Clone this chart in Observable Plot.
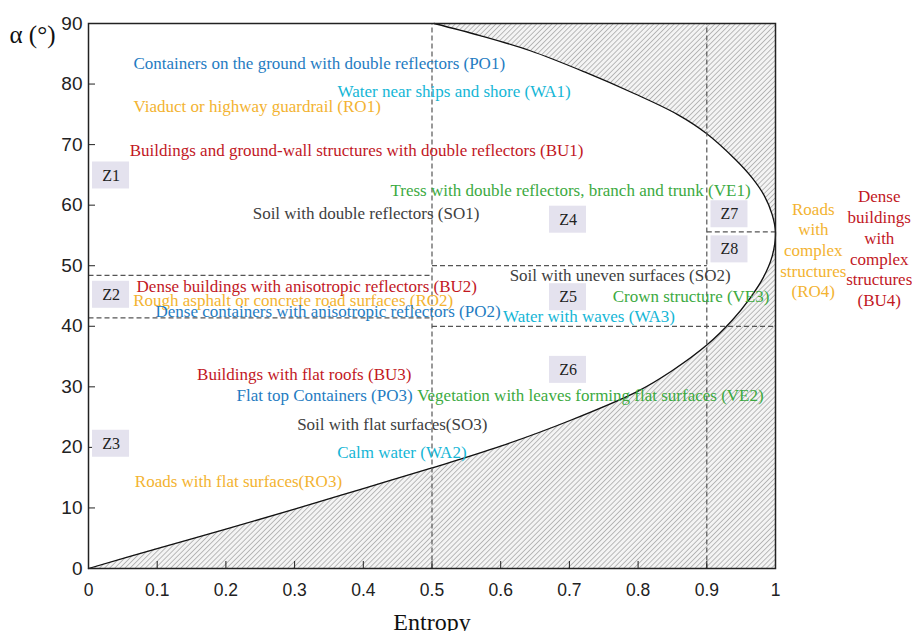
<!DOCTYPE html>
<html><head><meta charset="utf-8">
<script src="https://cdn.jsdelivr.net/npm/d3@7"></script>
<script src="https://cdn.jsdelivr.net/npm/@observablehq/plot@0.6"></script>
<style>body{margin:0;background:#fff} #chart{width:912px;height:631px;overflow:hidden}</style>
</head><body><div id="chart"></div>
<script>
// ---------- data ----------
const entropyDomain = [0, 1];
const alphaDomain = [0, 90];
const xTicks = [0, 0.1, 0.2, 0.3, 0.4, 0.5, 0.6, 0.7, 0.8, 0.9, 1];
const xTickLabels = ["0", "0.1", "0.2", "0.3", "0.4", "0.5", "0.6", "0.7", "0.8", "0.9", "1"];
const yTicks = [0, 10, 20, 30, 40, 50, 60, 70, 80, 90];

// feasible-region boundary
const boundaryAlpha   = [0, 3.3, 6.5, 9.8, 13.2, 16.6, 20.2, 24.4, 29.3, 32.7, 36.9, 41, 44.5, 48, 51.5, 55.5, 58.5, 61.5, 64.5, 67.5, 71.8, 75, 78.4, 82, 85.5, 88, 90];
const boundaryEntropy = [0, 0.1, 0.2, 0.3, 0.4, 0.5, 0.6, 0.7, 0.8, 0.85, 0.9, 0.937, 0.962, 0.982, 0.995, 1.0, 0.995, 0.984, 0.966, 0.942, 0.9, 0.857, 0.795, 0.722, 0.643, 0.57, 0.503];

// zone boundaries (dashed)
const dashX1 = [0.5, 0.9, 0, 0, 0.5, 0.5, 0.9];
const dashY1 = [0, 0, 48.4, 41.4, 50, 40, 55.6];
const dashX2 = [0.5, 0.9, 0.5, 0.5, 0.9, 1, 1];
const dashY2 = [90, 90, 48.4, 41.4, 50, 40, 55.6];

// zone tags
const zoneNames   = ["Z1", "Z2", "Z3", "Z4", "Z5", "Z6", "Z7", "Z8"];
const zoneEntropy = [0.0328, 0.0328, 0.0328, 0.698, 0.698, 0.698, 0.933, 0.933];
const zoneAlpha   = [64.9, 45.2, 20.6, 57.6, 44.8, 32.8, 58.5, 52.7];

// scattering class labels
const labelText = [
  "Containers on the ground with double reflectors (PO1)",
  "Water near ships and shore (WA1)",
  "Viaduct or highway guardrail (RO1)",
  "Buildings and ground-wall structures with double reflectors (BU1)",
  "Tress with double reflectors, branch and trunk (VE1)",
  "Soil with double reflectors (SO1)",
  "Soil with uneven surfaces (SO2)",
  "Dense buildings with anisotropic reflectors (BU2)",
  "Rough asphalt or concrete road surfaces (RO2)",
  "Dense containers with anisotropic reflectors (PO2)",
  "Water with waves (WA3)",
  "Crown structure (VE3)",
  "Buildings with flat roofs (BU3)",
  "Flat top Containers (PO3)",
  "Vegetation with leaves forming flat surfaces (VE2)",
  "Soil with flat surfaces(SO3)",
  "Calm water (WA2)",
  "Roads with flat surfaces(RO3)"
];
const labelGroup   = ["PO", "WA", "RO", "BU", "VE", "SO", "SO", "BU", "RO", "PO", "WA", "VE", "BU", "PO", "VE", "SO", "WA", "RO"];
const labelEntropy = [0.0655, 0.3625, 0.0655, 0.060, 0.4396, 0.239, 0.613, 0.070, 0.065, 0.0975, 0.6035, 0.763, 0.158, 0.2154, 0.4784, 0.3037, 0.362, 0.0674];
const labelAlpha   = [83.4, 78.8, 76.3, 69.0, 62.4, 58.6, 48.4, 46.6, 44.3, 42.5, 41.6, 44.9, 32.1, 28.6, 28.6, 23.8, 19.1, 14.3];

// multi-line labels right of the plot
const blockText    = ["Roads\nwith\ncomplex\nstructures\n(RO4)", "Dense\nbuildings\nwith\ncomplex\nstructures\n(BU4)"];
const blockGroup   = ["RO", "BU"];
const blockEntropy = [1.055, 1.151];
const blockAlpha   = [52.7, 53.0];

const groups      = ["PO", "WA", "RO", "BU", "VE", "SO"];
const groupColors = ["#1f7cc2", "#14b6d6", "#f3b331", "#c2181f", "#3caa3f", "#404040"];

// ---------- build ----------
const boundary = boundaryAlpha.map((a, i) => ({alpha: a, entropy: boundaryEntropy[i]}));
const dashes = dashX1.map((x, i) => ({x1: x, y1: dashY1[i], x2: dashX2[i], y2: dashY2[i]}));
const zones = zoneNames.map((n, i) => ({name: n, entropy: zoneEntropy[i], alpha: zoneAlpha[i]}));
const labels = labelText.map((t, i) => ({text: t, group: labelGroup[i], entropy: labelEntropy[i], alpha: labelAlpha[i]}));
const blocks = blockText.map((t, i) => ({text: t, group: blockGroup[i], entropy: blockEntropy[i], alpha: blockAlpha[i]}));

const serif = "'Liberation Serif','Times New Roman',serif";
const sans = "'Liberation Sans',Arial,sans-serif";

const svg = Plot.plot({
  width: 912, height: 631,
  marginTop: 23, marginLeft: 88, marginRight: 137, marginBottom: 63,
  x: {domain: entropyDomain, label: null},
  y: {domain: alphaDomain, label: null},
  color: {domain: groups, range: groupColors},
  style: {fontFamily: sans, background: "white", color: "#222", overflow: "visible"},
  marks: [
    Plot.areaX(boundary, {y: "alpha", x1: "entropy", x2: () => entropyDomain[1], fill: "url(#hatch)", curve: "catmull-rom"}),
    Plot.line(boundary, {x: "entropy", y: "alpha", stroke: "#111", strokeWidth: 1.3, curve: "catmull-rom"}),
    Plot.link(dashes, {x1: "x1", y1: "y1", x2: "x2", y2: "y2", stroke: "#555", strokeWidth: 1.2, strokeDasharray: "5,3"}),
    Plot.frame({stroke: "#222", strokeWidth: 1.5}),
    Plot.axisX(xTicks, {tickSize: -7, tickPadding: 22, tickFormat: d => xTickLabels[xTicks.indexOf(d)], fontSize: 17.5, fill: "#222", label: null}),
    Plot.axisY(yTicks, {tickSize: -7, tickPadding: 13, fontSize: 19, fill: "#222", label: null}),
    Plot.rect(zones, {x1: "entropy", x2: "entropy", y1: "alpha", y2: "alpha", insetLeft: -18.5, insetRight: -18.5, insetTop: -13.5, insetBottom: -13.5, fill: "#e4e2ee"}),
    Plot.text(zones, {x: "entropy", y: "alpha", text: "name", fontFamily: serif, fontSize: 16, fill: "#222"}),
    Plot.text(labels, {x: "entropy", y: "alpha", text: "text", fill: "group", textAnchor: "start", fontFamily: serif, fontSize: 17}),
    Plot.text(blocks, {x: "entropy", y: "alpha", text: "text", fill: "group", textAnchor: "middle", fontFamily: serif, fontSize: 17, lineHeight: 1.22}),
    Plot.text(["α (°)"], {text: d => d, frameAnchor: "top-left", dx: -79, dy: 2, textAnchor: "start", fontFamily: serif, fontSize: 25, fill: "#111"}),
    Plot.text(["Entropy"], {text: d => d, frameAnchor: "bottom", dy: 61, fontFamily: serif, fontSize: 24, fill: "#111"})
  ]
});

const defs = document.createElementNS("http://www.w3.org/2000/svg", "defs");
defs.innerHTML = '<pattern id="hatch" width="3.6" height="3.6" patternUnits="userSpaceOnUse" patternTransform="rotate(45)"><rect width="3.6" height="3.6" fill="#f4f4f4"/><line x1="0" y1="0" x2="0" y2="3.6" stroke="#8a8a8a" stroke-width="1.1"/></pattern>';
svg.insertBefore(defs, svg.firstChild);
document.getElementById("chart").appendChild(svg);
</script></body></html>
